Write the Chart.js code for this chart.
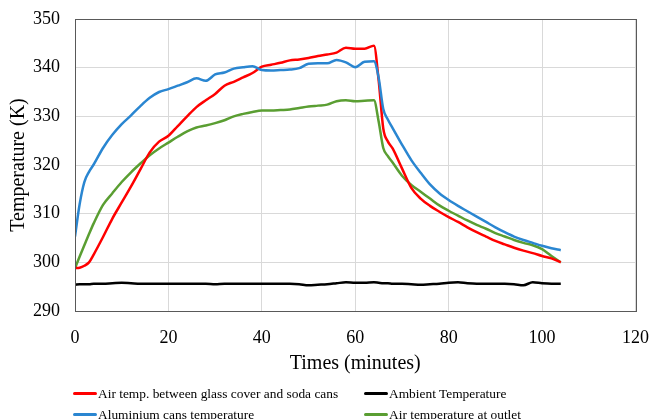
<!DOCTYPE html>
<html>
<head>
<meta charset="utf-8">
<script src="https://cdn.jsdelivr.net/npm/chart.js@4.4.1/dist/chart.umd.min.js"></script>
<style>
  html, body { margin: 0; padding: 0; background: #fff; }
  #wrap { position: relative; width: 653px; height: 419px; overflow: hidden; }
  canvas { position: absolute; left: 0; top: 0; }
  .leg { position: absolute; font-family: "Liberation Serif", "Times New Roman", serif; font-size: 13.4px; color: #000; white-space: nowrap; line-height: 16px; }
  .leg .ln { display: inline-block; width: 24px; height: 3px; border-radius: 2px; vertical-align: middle; margin-right: 1px; position: relative; top: -1px; }
</style>
</head>
<body>
<div id="wrap">
  <canvas id="c" width="653" height="419"></canvas>
  <div id="legend"></div>
</div>
<script>
// ---- Data ----
const times = [0,1,2,3,4,6,8,10,12,14,16,18,20,22,24,26,28,30,32,34,36,38,40,42,44,46,48,50,52,54,56,58,60,62,64,65,66,67,68,70,72,74,76,78,80,82,84,86,88,90,92,94,96,98,100,102,104];

const airGlassCans = [298.8,298.9,299.3,300.0,301.6,305.2,309.0,312.3,315.6,319.1,322.6,324.8,326.0,328.0,330.0,331.9,333.3,334.6,336.3,337.1,338.0,338.9,340.2,340.6,341.0,341.5,341.7,342.0,342.4,342.7,343.1,344.1,343.9,343.9,344.5,337.5,327.5,324.8,323.4,319.3,315.3,313.1,311.6,310.4,309.3,308.3,307.2,306.2,305.3,304.4,303.7,303.0,302.4,301.9,301.3,300.8,300.0];

const aluminiumCans = [305.3,312.0,316.5,318.6,320.1,323.5,326.2,328.4,330.2,332.1,333.8,335.0,335.6,336.3,337.0,337.8,337.3,338.6,339.0,339.8,340.1,340.3,339.5,339.4,339.5,339.6,339.9,340.8,340.9,340.9,341.6,341.1,340.1,341.2,341.3,338.0,331.5,329.3,327.6,324.2,321.0,318.4,316.0,314.2,312.8,311.6,310.5,309.4,308.3,307.2,306.2,305.3,304.6,304.0,303.4,302.9,302.5];

const ambient = [295.4,295.5,295.5,295.5,295.6,295.6,295.7,295.8,295.7,295.6,295.6,295.6,295.6,295.6,295.6,295.6,295.6,295.5,295.6,295.6,295.6,295.6,295.6,295.6,295.6,295.6,295.5,295.3,295.4,295.5,295.7,295.9,295.8,295.8,295.9,295.8,295.7,295.7,295.6,295.6,295.5,295.4,295.5,295.6,295.8,295.9,295.7,295.6,295.6,295.6,295.6,295.5,295.3,295.9,295.7,295.6,295.6];

const airOutlet = [298.8,301.2,303.5,305.8,308.0,311.8,314.2,316.5,318.5,320.3,322.0,323.4,324.6,325.8,326.9,327.7,328.1,328.6,329.2,330.0,330.5,330.9,331.2,331.2,331.3,331.4,331.7,332.0,332.2,332.4,333.1,333.3,333.1,333.2,333.3,329.0,323.5,321.8,320.5,317.8,315.9,314.5,313.1,311.7,310.6,309.6,308.6,307.7,306.9,306.0,305.3,304.6,304.0,303.5,302.7,301.3,300.0];

const seriesNames = ["Air temp. between glass cover and soda cans", "Aluminium cans temperature", "Ambient Temperature", "Air temperature at outlet"];
const xTitle = "Times (minutes)";
const yTitle = "Temperature (K)";

// ---- Styles ----
const colors = ["#ff0000", "#2a86d1", "#000000", "#5a9e32"];
const FONT = "'Liberation Serif', 'Times New Roman', serif";

function pts(vals) { return times.map((t, i) => ({ x: t, y: vals[i] })); }
const allSeries = [airGlassCans, aluminiumCans, ambient, airOutlet];

const datasets = allSeries.map((vals, i) => ({
  label: seriesNames[i],
  data: pts(vals),
  borderColor: colors[i],
  backgroundColor: colors[i],
  borderWidth: 2.5,
  pointRadius: 0,
  fill: false,
  cubicInterpolationMode: 'monotone'
}));

const drawOrder = [1, 0, 3, 2];
datasets.forEach((d, i) => { d.order = drawOrder[i]; });

const boxPlugin = {
  id: 'box',
  afterDraw(chart) {
    const a = chart.chartArea, ctx = chart.ctx;
    ctx.save();
    ctx.strokeStyle = '#595959';
    ctx.lineWidth = 1;
    ctx.strokeRect(Math.round(a.left) + 0.5, Math.round(a.top) + 0.5, Math.round(a.right - a.left), Math.round(a.bottom - a.top));
    ctx.restore();
  }
};

new Chart(document.getElementById('c'), {
  type: 'line',
  data: { datasets },
  plugins: [boxPlugin],
  options: {
    responsive: false,
    animation: false,
    devicePixelRatio: 1,
    layout: { padding: { top: 19, right: 17.5, bottom: 38, left: 0 } },
    plugins: { legend: { display: false }, tooltip: { enabled: false } },
    scales: {
      x: {
        type: 'linear', min: 0, max: 120,
        ticks: { stepSize: 20, color: '#000', font: { family: FONT, size: 18 }, padding: 0, maxRotation: 0 },
        grid: { color: '#d9d9d9', lineWidth: 1, drawTicks: true, tickLength: 16, tickColor: 'rgba(0,0,0,0)' },
        border: { display: true, color: '#595959' },
        title: { display: true, text: xTitle, color: '#000', font: { family: FONT, size: 20 }, padding: { top: 0, bottom: 5 } },
        afterFit(s) { s.height = 70; }
      },
      y: {
        min: 290, max: 350,
        ticks: { stepSize: 10, color: '#000', font: { family: FONT, size: 18 }, padding: 0 },
        grid: { color: '#d9d9d9', lineWidth: 1, drawTicks: true, tickLength: 15, tickColor: 'rgba(0,0,0,0)' },
        border: { display: true, color: '#595959' },
        title: { display: true, text: yTitle, color: '#000', font: { family: FONT, size: 20 }, padding: { top: 7, bottom: 0 } },
        afterFit(s) { s.width = 75; }
      }
    }
  }
});

// ---- HTML legend (two columns, two rows as in the reference) ----
const legendPos = [
  { i: 0, left: 73, top: 386 },
  { i: 2, left: 364, top: 386 },
  { i: 1, left: 73, top: 407 },
  { i: 3, left: 364, top: 407 }
];
const legendEl = document.getElementById('legend');
legendPos.forEach(p => {
  const d = document.createElement('div');
  d.className = 'leg';
  d.style.left = p.left + 'px';
  d.style.top = p.top + 'px';
  const ln = document.createElement('span');
  ln.className = 'ln';
  ln.style.background = colors[p.i];
  d.appendChild(ln);
  d.appendChild(document.createTextNode(seriesNames[p.i]));
  legendEl.appendChild(d);
});
</script>
</body>
</html>
